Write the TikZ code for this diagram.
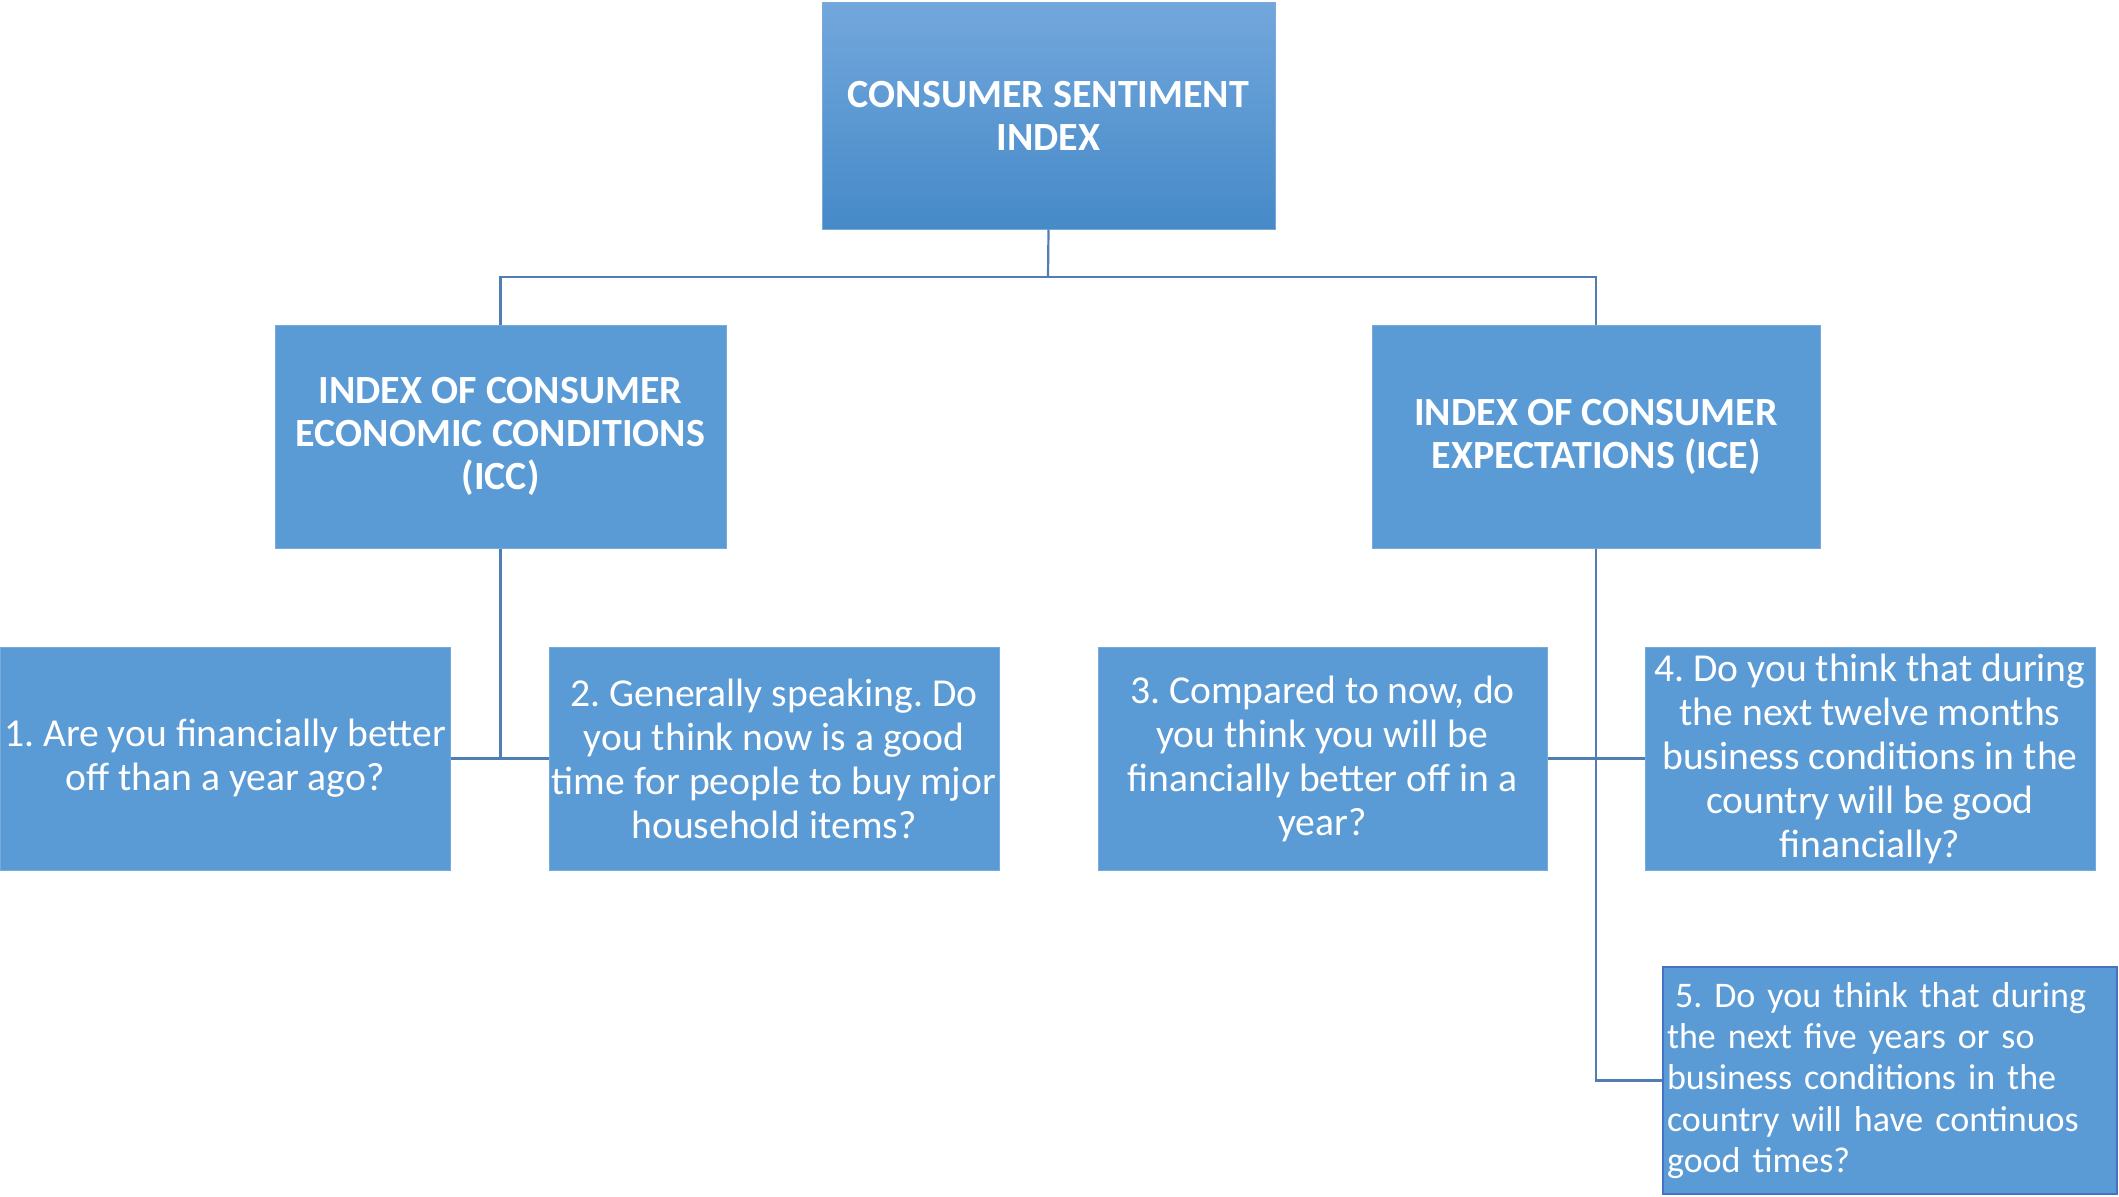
\documentclass[tikz,border=0pt]{standalone}
\usepackage{fontspec}
\setmainfont{Carlito}
\frenchspacing
\definecolor{boxblue}{RGB}{91,155,213}
\definecolor{boxedge}{RGB}{120,170,220}
\definecolor{topA}{RGB}{114,167,220}
\definecolor{topB}{RGB}{70,138,200}
\definecolor{linec}{RGB}{80,126,178}
\definecolor{darkedge}{RGB}{68,114,196}
\tikzset{
  base/.style={fill=boxblue, draw=boxedge, line width=0.5pt, inner sep=0pt, text=white, align=center,
    font=\frenchspacing\fontsize{19.8}{22}\selectfont},
  headbox/.style={base, font=\bfseries\fontsize{20}{21.5}\selectfont},
  topbox/.style={headbox, top color=topA, bottom color=topB, draw=boxedge},
  conn/.style={draw=linec, line width=1.1pt},
}
\begin{document}
\begin{tikzpicture}[x=0.5pt,y=-0.5pt]
\useasboundingbox (0,0) rectangle (2119,1196);
\node[topbox, minimum width=226.5pt, minimum height=113.5pt] (top) at (1048.5,115.5) {CONSUMER SENTIMENT\\INDEX};
\node[headbox, minimum width=225.5pt, minimum height=111.5pt] (icc) at (500.5,436.5) {INDEX OF CONSUMER\\ECONOMIC CONDITIONS\\(ICC)};
\node[headbox, minimum width=224pt, minimum height=111.5pt] (ice) at (1596,436.5) {INDEX OF CONSUMER\\EXPECTATIONS (ICE)};
\node[base, minimum width=225pt, minimum height=111.5pt] (b1) at (225,758.5) {1. Are you financially better\\off than a year ago?};
\node[base, minimum width=225pt, minimum height=111.5pt] (b2) at (774,758.5) {2. Generally speaking. Do\\you think now is a good\\time for people to buy mjor\\household items?};
\node[base, minimum width=224.5pt, minimum height=111.5pt] (b3) at (1322.5,758.5) {3. Compared to now, do\\you think you will be\\financially better off in a\\year?};
\node[base, minimum width=225pt, minimum height=111.5pt] (b4) at (1870,758.5) {4. Do you think that during\\the next twelve months\\business conditions in the\\country will be good\\financially?};
\node[base, draw=darkedge, line width=1pt, align=left, text width=223pt, inner xsep=2pt,
  minimum height=113.5pt, font=\frenchspacing\fontsize{18}{20.6}\selectfont] (b5) at (1890,1080.5)
  {\hspace{4pt}5. Do you think that during\\the next five years or so\\business conditions in the\\country will have continuos\\good times?};
\coordinate (bus) at (1048,277);
\draw[conn] (top.south) -- (bus);
\draw[conn] (icc.north) |- (bus) -| (ice.north);
\draw[conn] (icc.south) -- (icc.south |- b1.east);
\draw[conn] (b1.east) -- (b2.west);
\draw[conn] (ice.south) |- (b5.west);
\draw[conn] (b3.east) -- (b4.west);
\end{tikzpicture}
\end{document}
